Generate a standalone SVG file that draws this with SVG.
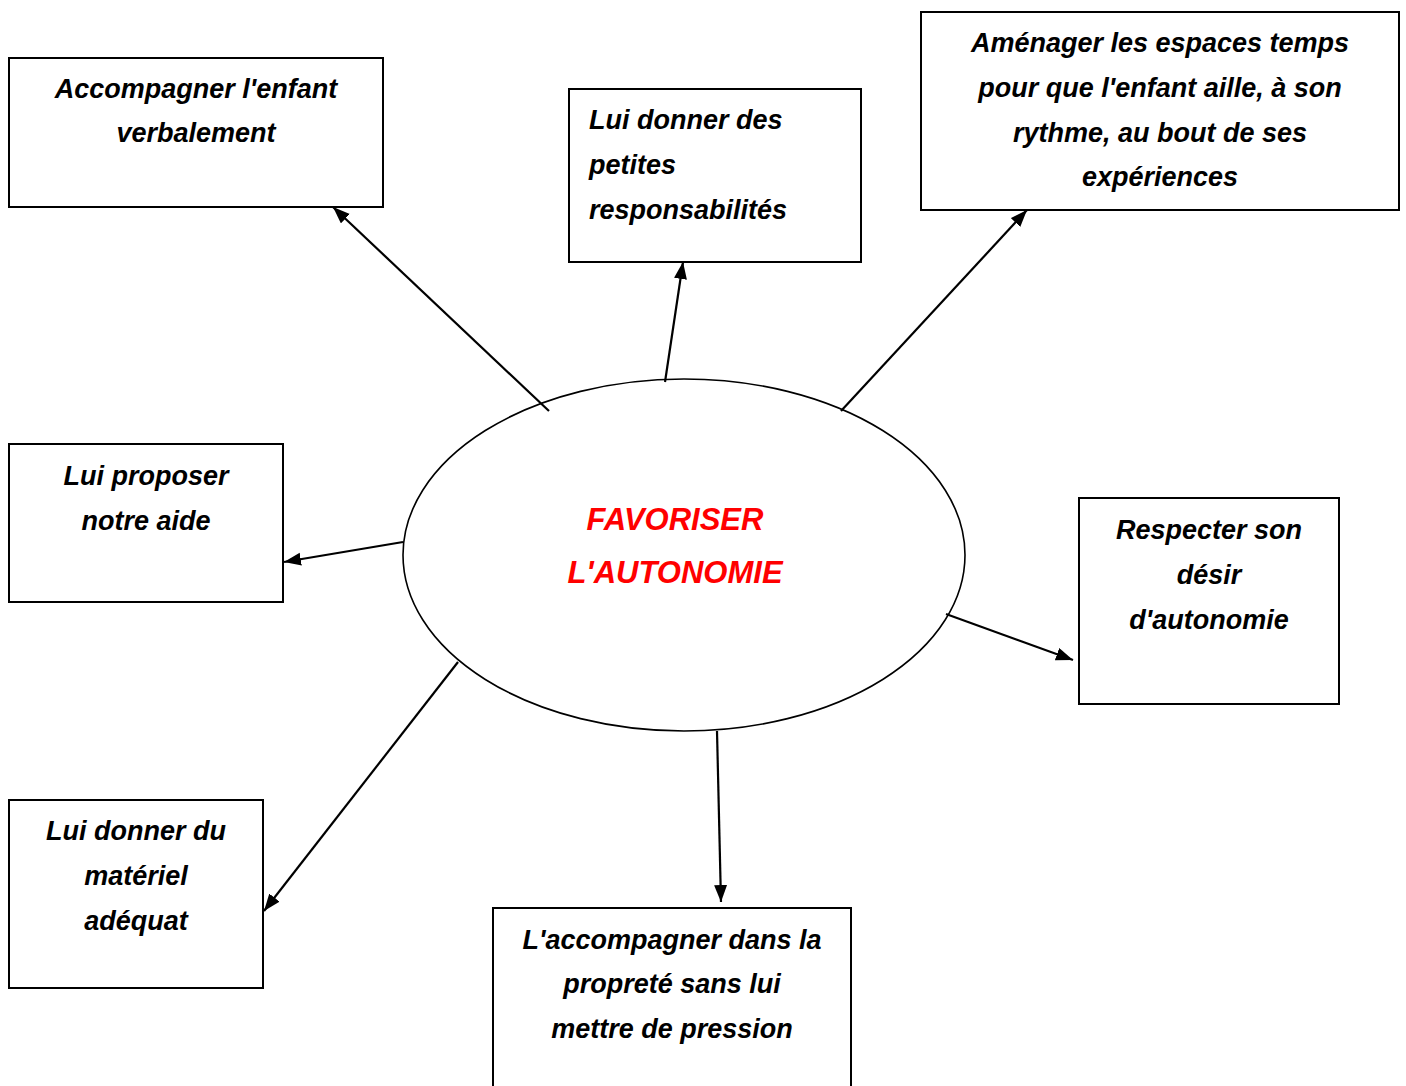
<svg xmlns="http://www.w3.org/2000/svg" width="1406" height="1086" viewBox="0 0 1406 1086">
<style>
.box{fill:#fff;stroke:#000;stroke-width:2}
.t{font-family:"Liberation Sans",Arial,sans-serif;font-weight:bold;font-style:italic;font-size:27px;fill:#000}
.c{text-anchor:middle}
.conn line{stroke:#000;stroke-width:2.2;marker-end:url(#ah)}
.center{font-family:"Liberation Sans",Arial,sans-serif;font-weight:bold;font-style:italic;font-size:31px;fill:#ff0000;text-anchor:middle}
</style>
<defs>
<marker id="ah" markerUnits="userSpaceOnUse" markerWidth="20" markerHeight="14" refX="17" refY="6.5" orient="auto">
<path d="M0,0 L17,6.5 L0,13 Z" fill="#000"/>
</marker>
</defs>
<rect width="1406" height="1086" fill="#fff"/>
<g id="center">
<ellipse cx="684" cy="555" rx="281" ry="176" fill="#fff" stroke="#000" stroke-width="1.6"/>
<text class="center" x="675" y="530">FAVORISER</text>
<text class="center" x="675" y="583">L'AUTONOMIE</text>
</g>
<g id="n1">
<rect class="box" x="9" y="58" width="374" height="149"/>
<text class="t c" x="196" y="98">Accompagner l'enfant</text>
<text class="t c" x="196" y="142">verbalement</text>
</g>
<g id="n2">
<rect class="box" x="569" y="89" width="292" height="173"/>
<text class="t" x="589" y="129">Lui donner des</text>
<text class="t" x="589" y="174">petites</text>
<text class="t" x="589" y="219">responsabilités</text>
</g>
<g id="n3">
<rect class="box" x="921" y="12" width="478" height="198"/>
<text class="t c" x="1160" y="52">Aménager les espaces temps</text>
<text class="t c" x="1160" y="97">pour que l'enfant aille, à son</text>
<text class="t c" x="1160" y="142">rythme, au bout de ses</text>
<text class="t c" x="1160" y="186">expériences</text>
</g>
<g id="n4">
<rect class="box" x="9" y="444" width="274" height="158"/>
<text class="t c" x="146" y="485">Lui proposer</text>
<text class="t c" x="146" y="530">notre aide</text>
</g>
<g id="n5">
<rect class="box" x="1079" y="498" width="260" height="206"/>
<text class="t c" x="1209" y="539">Respecter son</text>
<text class="t c" x="1209" y="584">désir</text>
<text class="t c" x="1209" y="629">d'autonomie</text>
</g>
<g id="n6">
<rect class="box" x="9" y="800" width="254" height="188"/>
<text class="t c" x="136" y="840">Lui donner du</text>
<text class="t c" x="136" y="885">matériel</text>
<text class="t c" x="136" y="930">adéquat</text>
</g>
<g id="n7">
<rect class="box" x="493" y="908" width="358" height="190"/>
<text class="t c" x="672" y="949">L'accompagner dans la</text>
<text class="t c" x="672" y="993">propreté sans lui</text>
<text class="t c" x="672" y="1038">mettre de pression</text>
</g>
<g id="connectors" class="conn">
<line x1="549" y1="411" x2="333" y2="207"/>
<line x1="665" y1="382" x2="683" y2="262"/>
<line x1="841" y1="411" x2="1027" y2="210"/>
<line x1="403" y1="542" x2="284" y2="562"/>
<line x1="946" y1="614" x2="1073" y2="660"/>
<line x1="458" y1="662" x2="264" y2="911"/>
<line x1="717" y1="731" x2="721" y2="902"/>
</g>
</svg>
